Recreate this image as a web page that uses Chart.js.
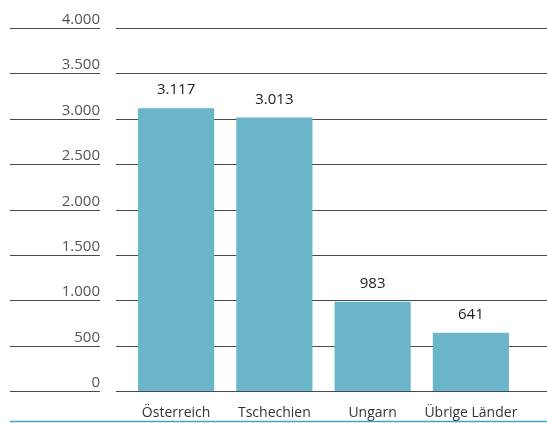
<!DOCTYPE html>
<html>
<head>
<meta charset="utf-8">
<script src="https://cdn.jsdelivr.net/npm/chart.js@4"></script>
<style>
  html, body { margin: 0; padding: 0; background: #fff; }
  canvas { display: block; }
</style>
</head>
<body>
<canvas id="chart" width="547" height="423"></canvas>
<script>
const categories = ['Österreich', 'Tschechien', 'Ungarn', 'Übrige Länder'];
const values = [3117, 3013, 983, 641];
const yMax = 4000;
const yStep = 500;

const fmt = v => String(v).replace(/\B(?=(\d{3})+(?!\d))/g, '.');
const FONT = '"Open Sans", "Noto Sans", sans-serif';

// Gitternetz + Y-Beschriftung selbst zeichnen (Linien gehen über die Kategorien hinaus)
const gridPlugin = {
    id: 'gridLines',
    beforeDatasetsDraw(chart) {
        const ctx = chart.ctx;
        const y = chart.scales.y;
        ctx.save();
        ctx.strokeStyle = '#4a4a4a';
        ctx.lineWidth = 1;
        ctx.fillStyle = '#555';
        ctx.font = '15px ' + FONT;
        ctx.textAlign = 'right';
        ctx.textBaseline = 'alphabetic';
        y.ticks.forEach(t => {
            const py = Math.round(y.getPixelForValue(t.value)) + 0.5;
            ctx.beginPath();
            ctx.moveTo(10, py); ctx.lineTo(100, py);
            ctx.moveTo(116, py); ctx.lineTo(547, py);
            ctx.stroke();
            ctx.fillText(fmt(t.value), 100, py - 5);
        });
        // türkise Linie unten
        ctx.strokeStyle = '#3aa7c4';
        ctx.lineWidth = 1.5;
        ctx.beginPath();
        ctx.moveTo(10, 421.5); ctx.lineTo(547, 421.5);
        ctx.stroke();
        ctx.restore();
    },
    afterDatasetsDraw(chart) {
        const ctx = chart.ctx;
        const meta = chart.getDatasetMeta(0);
        ctx.save();
        ctx.fillStyle = '#222';
        ctx.font = '15px ' + FONT;
        ctx.textAlign = 'center';
        ctx.textBaseline = 'middle';
        meta.data.forEach((bar, i) => {
            ctx.fillText(fmt(values[i]), bar.x, bar.y - 18);
        });
        ctx.restore();
    }
};

new Chart(document.getElementById('chart'), {
    type: 'bar',
    data: {
        labels: categories,
        datasets: [{
            data: values,
            backgroundColor: '#6bb5c9',
            borderWidth: 0,
            barPercentage: 0.775,
            categoryPercentage: 1
        }]
    },
    options: {
        responsive: false,
        animation: false,
        layout: { padding: { left: 127, right: 27, top: 28, bottom: 0 } },
        plugins: { legend: { display: false }, tooltip: { enabled: false } },
        scales: {
            x: {
                grid: { display: false },
                border: { display: false },
                ticks: {
                    color: '#333',
                    font: { family: FONT, size: 14 },
                    padding: 6,
                    maxRotation: 0,
                    minRotation: 0,
                    autoSkip: false
                },
                afterFit(axis) { axis.height = 32; }
            },
            y: {
                display: false,
                min: 0,
                max: yMax,
                ticks: { stepSize: yStep }
            }
        }
    },
    plugins: [gridPlugin]
});
</script>
</body>
</html>
